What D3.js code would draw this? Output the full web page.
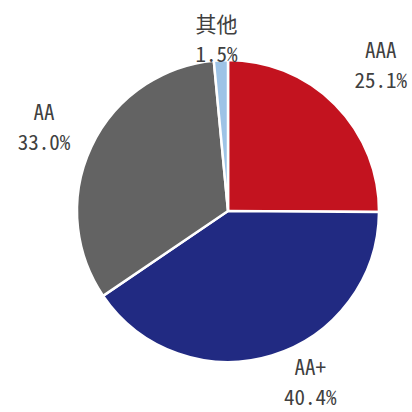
<!DOCTYPE html>
<html>
<head>
<meta charset="utf-8">
<script src="https://cdn.jsdelivr.net/npm/d3@7"></script>
<style>
  html, body { margin: 0; padding: 0; background: #fff; }
  svg { display: block; }
  text { font-family: "Noto Sans Mono CJK SC", "Noto Sans CJK SC", "DejaVu Sans Mono", monospace; }
</style>
</head>
<body>
<svg id="chart" width="412" height="412"></svg>
<script>
// Rating distribution (share, %)
const categories = ["AAA", "AA+", "AA", "其他"];
const shares = [25.1, 40.4, 33.0, 1.5];
const colors = ["#C3131F", "#212A82", "#636363", "#9DC3E6"];

// Fine adjustments to the label anchor of each slice
const labelNudge = [[11, -4], [24, -20], [-3, 2], [-2, 28]];

const width = 412, height = 412;
const cx = 228, cy = 211, radius = 151, labelRadius = 200;

const svg = d3.select("#chart");

const pie = d3.pie().sort(null).value(d => d.value);
const arcs = pie(categories.map((c, i) => ({ name: c, value: shares[i], color: colors[i] })));

const arc = d3.arc().innerRadius(0).outerRadius(radius);
const labelArc = d3.arc().innerRadius(labelRadius).outerRadius(labelRadius);

const g = svg.append("g").attr("transform", `translate(${cx},${cy})`);

g.selectAll("path.slice")
  .data(arcs)
  .join("path")
  .attr("class", "slice")
  .attr("d", arc)
  .attr("fill", d => d.data.color)
  .attr("stroke", "#fff")
  .attr("stroke-width", 2.5)
  .attr("stroke-linejoin", "miter");

const labels = g.selectAll("g.label")
  .data(arcs)
  .join("g")
  .attr("class", "label")
  .attr("transform", (d, i) => {
    const [x, y] = labelArc.centroid(d);
    return `translate(${x + labelNudge[i][0]},${y + labelNudge[i][1]})`;
  });

labels.append("text")
  .attr("text-anchor", "middle")
  .attr("y", -15)
  .attr("dy", "0.35em")
  .attr("font-size", 21)
  .attr("fill", "#404040")
  .text(d => d.data.name);

labels.append("text")
  .attr("text-anchor", "middle")
  .attr("y", 15)
  .attr("dy", "0.35em")
  .attr("font-size", 21)
  .attr("fill", "#404040")
  .text(d => d3.format(".1f")(d.data.value) + "%");
</script>
</body>
</html>
